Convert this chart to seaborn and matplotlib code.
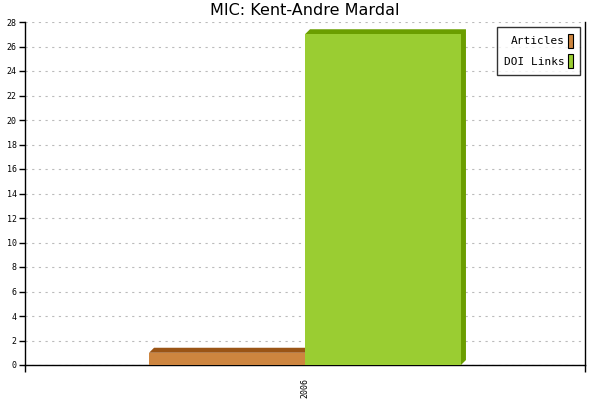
import pandas as pd
import numpy as np
import matplotlib
matplotlib.use("Agg")
import matplotlib.pyplot as plt
from matplotlib.patches import Polygon
import seaborn as sns

# --- data ---
years = ['2006']
series = ['Articles', 'DOI Links']
articles = [1]
doi_links = [27]
colors = {'Articles': '#CD853F', 'DOI Links': '#9ACD32'}
dark = {'Articles': '#9A5415', 'DOI Links': '#6B9E00'}

df = pd.DataFrame({
    'Year': years * 2,
    'Series': ['Articles'] * len(years) + ['DOI Links'] * len(years),
    'Count': articles + doi_links,
})

sns.set_style('white')
plt.rcParams['font.family'] = ['DejaVu Sans']
plt.rcParams['text.color'] = 'black'
plt.rcParams['xtick.color'] = 'black'
plt.rcParams['ytick.color'] = 'black'

fig = plt.figure(figsize=(6, 4), dpi=100)
ax = fig.add_axes([25 / 600, 35 / 400, 560 / 600, 343 / 400])

sns.barplot(data=df, x='Year', y='Count', hue='Series', palette=colors,
            width=0.557, gap=0, saturation=1, linewidth=0, ax=ax, zorder=3)

ax.set_xlim(-0.5, 0.5)
ax.set_ylim(0, 28)
ax.set_yticks(range(0, 29, 2))

# pseudo-3D depth on each bar (5 px offset)
dx = 5 * 1.0 / 560
dy = 5 * 28.0 / 343
for bar, name in zip(ax.patches[:2], series):
    x0 = bar.get_x()
    x1 = x0 + bar.get_width()
    h = bar.get_height()
    pts = [(x0, h), (x0 + dx, h + dy), (x1 + dx, h + dy),
           (x1 + dx, dy), (x1, 0), (x1, h)]
    ax.add_patch(Polygon(pts, closed=True, facecolor=dark[name],
                         edgecolor='none', zorder=2, clip_on=False))

ax.grid(axis='y', linestyle=(0, (2, 4)), color='#bbbbbb', linewidth=0.8, zorder=0)
ax.set_axisbelow(True)

ax.spines['top'].set_visible(False)
for s in ['left', 'right', 'bottom']:
    ax.spines[s].set_color('black')
    ax.spines[s].set_linewidth(1)

mono = 'DejaVu Sans Mono'
ax.tick_params(axis='y', direction='out', length=4, width=1, labelsize=6, pad=2,
               left=True)
for lbl in ax.get_yticklabels():
    lbl.set_family(mono)
ax.set_xticks([0])
ax.set_xticklabels(years, rotation=90, fontsize=6, family=mono)
ax.set_xticks([-0.5, 0.5], minor=True)
ax.tick_params(axis='x', which='major', length=0, pad=9)
ax.tick_params(axis='x', which='minor', direction='out', length=5, width=1, bottom=True)

ax.set_xlabel('')
ax.set_ylabel('')
ax.set_title('MIC: Kent-Andre Mardal', fontsize=11.5, pad=5, color='black')

leg = ax.legend(loc='upper right', bbox_to_anchor=(1 - 5 / 560, 1 - 5 / 343),
                borderaxespad=0, markerfirst=False,
                prop={'family': mono, 'size': 8}, frameon=True, fancybox=False,
                handlelength=0.45, handleheight=1.6, handletextpad=0.35,
                borderpad=0.6, labelspacing=0.55)
leg.get_frame().set_edgecolor('black')
leg.get_frame().set_linewidth(1)
for h in leg.get_patches():
    h.set_edgecolor('black')
    h.set_linewidth(0.8)

fig.savefig('out.png', dpi=100)
